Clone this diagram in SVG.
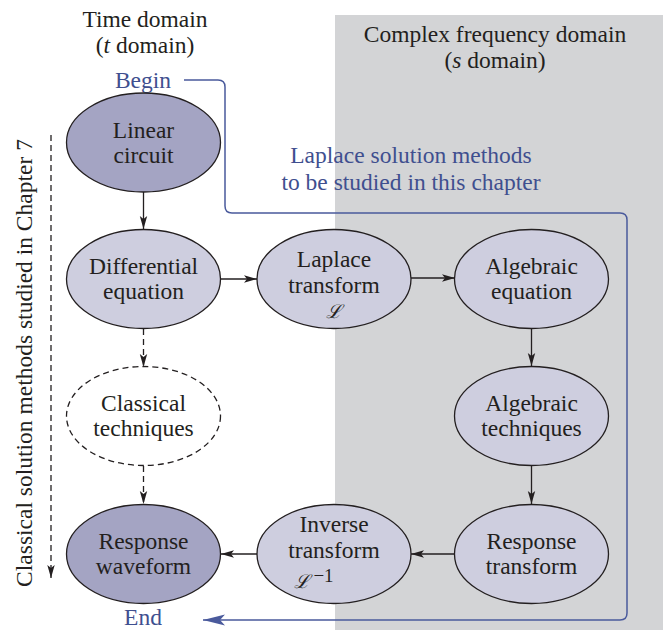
<svg xmlns="http://www.w3.org/2000/svg" width="663" height="630" viewBox="0 0 663 630">
<style>
text{font-family:"Liberation Serif","DejaVu Serif",serif;font-size:23.5px;fill:#231f20;text-anchor:middle}
.blue{fill:#3f4f8f}
.node{stroke:#231f20;stroke-width:1.3}
.dark{fill:#a4a4c3}
.light{fill:#cecedf}
.dashed{fill:#ffffff;stroke-dasharray:6 4}
.conn{stroke:#231f20;stroke-width:1.3;fill:none}
.dash{stroke-dasharray:6 4}
.bl{stroke:#4a5a9c;stroke-width:1.5;fill:none}
.it{font-style:italic}
.sym{font-size:19px}
</style>
<defs>
<marker id="ah" markerUnits="userSpaceOnUse" markerWidth="16" markerHeight="10" refX="13" refY="5" orient="auto">
<path d="M13,5 L0,1.3 L3,5 L0,8.7 Z" fill="#231f20"/>
</marker>
<marker id="bh" markerUnits="userSpaceOnUse" markerWidth="24" markerHeight="14" refX="22" refY="7" orient="auto">
<path d="M0,7 L22,1.5 L17,7 L22,12.5 Z" fill="#4a5a9c" transform="rotate(180 11 7)"/>
</marker>
</defs>
<rect x="335" y="15" width="328" height="615" fill="#d3d4d6"/>
<g id="labels">
<text x="145" y="27">Time domain</text>
<text x="145" y="53">(<tspan class="it">t</tspan> domain)</text>
<text x="495" y="42">Complex frequency domain</text>
<text x="495" y="68">(<tspan class="it">s</tspan> domain)</text>
<text class="blue" x="143" y="88">Begin</text>
<text class="blue" x="411" y="163">Laplace solution methods</text>
<text class="blue" x="411" y="190">to be studied in this chapter</text>
<text class="blue" x="143" y="625">End</text>
<text transform="translate(32 363) rotate(-90)">Classical solution methods studied in Chapter 7</text>
</g>
<g id="connectors">
<line class="conn" x1="143.5" y1="192" x2="143.5" y2="229" marker-end="url(#ah)"/>
<line class="conn dash" x1="143.5" y1="329" x2="143.5" y2="367" marker-end="url(#ah)"/>
<line class="conn dash" x1="143.5" y1="466" x2="143.5" y2="504" marker-end="url(#ah)"/>
<line class="conn" x1="221" y1="279" x2="257" y2="279" marker-end="url(#ah)"/>
<line class="conn" x1="411" y1="278" x2="455" y2="278" marker-end="url(#ah)"/>
<line class="conn" x1="531.5" y1="328" x2="531.5" y2="366" marker-end="url(#ah)"/>
<line class="conn" x1="531.5" y1="465" x2="531.5" y2="504" marker-end="url(#ah)"/>
<line class="conn" x1="455" y1="554" x2="411" y2="554" marker-end="url(#ah)"/>
<line class="conn" x1="257" y1="554" x2="221" y2="554" marker-end="url(#ah)"/>
<line class="conn dash" x1="51" y1="135" x2="51" y2="578" marker-end="url(#ah)"/>
<path class="bl" d="M184,80 H218 Q225,80 225,87 V206 Q225,213 232,213 H620 Q627,213 627,220 V613 Q627,620 620,620 H203" marker-end="url(#bh)"/>
</g>
<g id="linear-circuit">
<ellipse class="node dark" cx="143.5" cy="142.5" rx="77" ry="49.5"/>
<text x="143.5" y="138">Linear</text>
<text x="143.5" y="163">circuit</text>
</g>
<g id="differential-equation">
<ellipse class="node light" cx="143.5" cy="279" rx="77" ry="49.5"/>
<text x="143.5" y="274">Differential</text>
<text x="143.5" y="299">equation</text>
</g>
<g id="laplace-transform">
<ellipse class="node light" cx="334" cy="279" rx="77" ry="49.5"/>
<text x="334" y="267">Laplace</text>
<text x="334" y="293">transform</text>
<text class="it sym" x="334" y="318">ℒ</text>
</g>
<g id="algebraic-equation">
<ellipse class="node light" cx="531.5" cy="279" rx="77" ry="49.5"/>
<text x="531.5" y="274">Algebraic</text>
<text x="531.5" y="299">equation</text>
</g>
<g id="classical-techniques">
<ellipse class="node dashed" cx="143.5" cy="416" rx="77" ry="49.5"/>
<text x="143.5" y="411">Classical</text>
<text x="143.5" y="436">techniques</text>
</g>
<g id="algebraic-techniques">
<ellipse class="node light" cx="531.5" cy="416" rx="77" ry="49.5"/>
<text x="531.5" y="411">Algebraic</text>
<text x="531.5" y="436">techniques</text>
</g>
<g id="response-waveform">
<ellipse class="node dark" cx="143.5" cy="554" rx="77" ry="49.5"/>
<text x="143.5" y="549">Response</text>
<text x="143.5" y="574">waveform</text>
</g>
<g id="inverse-transform">
<ellipse class="node light" cx="334" cy="554" rx="77" ry="49.5"/>
<text x="334" y="532">Inverse</text>
<text x="334" y="558">transform</text>
<text class="sym" x="314" y="588"><tspan class="it">ℒ</tspan><tspan dx="3" dy="-6">−1</tspan></text>
</g>
<g id="response-transform">
<ellipse class="node light" cx="531.5" cy="554" rx="77" ry="49.5"/>
<text x="531.5" y="549">Response</text>
<text x="531.5" y="574">transform</text>
</g>
</svg>
